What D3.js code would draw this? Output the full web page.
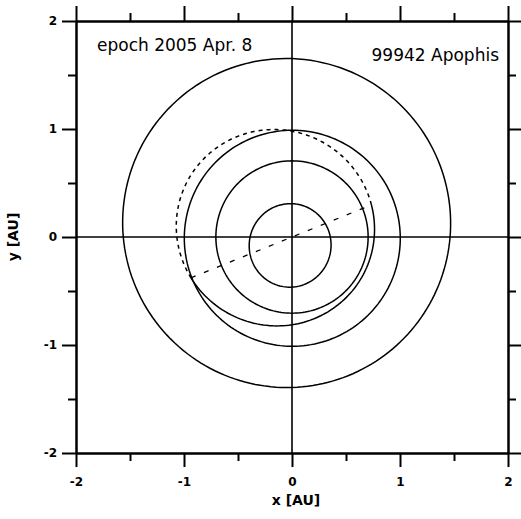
<!DOCTYPE html>
<html>
<head>
<meta charset="utf-8">
<script src="https://cdn.jsdelivr.net/npm/d3@7"></script>
<style>
body { margin: 0; background: #fff; }
svg { display: block; }
.axis path, .axis line { stroke: #000; stroke-width: 2; }
.axis text { font-family: "DejaVu Sans", sans-serif; font-weight: bold; font-size: 12px; fill: #000; }
</style>
</head>
<body>
<div id="chart"></div>
<script>
// orbit elements (AU, degrees)
var bodies = ["Mercury", "Venus", "Earth", "Mars", "99942 Apophis"];
var semiMajor = [0.387, 0.705, 1.0, 1.524, 0.922];
var eccentricity = [0.206, 0.0, 0.012, 0.091, 0.191];
var perihelionLon = [77.5, 131, 103, 291, 330.8];
var apophisNode = 202;          // longitude of line of nodes
var majorTicks = [-2, -1, 0, 1, 2];
var minorTicks = [-1.5, -0.5, 0.5, 1.5];
var epochLabel = "epoch 2005 Apr. 8";
var objectLabel = "99942 Apophis";

var width = 521, height = 519;
var margin = {top: 21, right: 13, bottom: 66, left: 76};

var svg = d3.select("#chart").append("svg")
    .attr("width", width)
    .attr("height", height);

var x = d3.scaleLinear().domain([-2, 2]).range([margin.left, width - margin.right]);
var y = d3.scaleLinear().domain([-2, 2]).range([height - margin.bottom, margin.top]);

var fmt = function(d) { return d < 0 ? "-" + Math.abs(d) : d; };

// axes: major + minor ticks on all four sides
function addAxis(axisFn, scale, transform, size, labels) {
    svg.append("g")
        .attr("class", "axis")
        .attr("transform", transform)
        .call(axisFn(scale).tickValues(majorTicks).tickSize(size).tickSizeOuter(0)
            .tickPadding(axisFn === d3.axisBottom ? 10 : 5)
            .tickFormat(labels ? fmt : ""));
    svg.append("g")
        .attr("class", "axis")
        .attr("transform", transform)
        .call(axisFn(scale).tickValues(minorTicks).tickSize(8).tickSizeOuter(0).tickFormat(""));
}
addAxis(d3.axisLeft, y, "translate(" + x(-2) + ",0)", 14, true);
addAxis(d3.axisRight, y, "translate(" + x(2) + ",0)", 14, false);
addAxis(d3.axisTop, x, "translate(0," + y(2) + ")", 15, false);
addAxis(d3.axisBottom, x, "translate(0," + y(-2) + ")", 14, true);

// cross hairs through the sun
svg.append("line")
    .attr("x1", x(-2)).attr("x2", x(2)).attr("y1", y(0)).attr("y2", y(0))
    .attr("stroke", "#000").attr("stroke-width", 1.6);
svg.append("line")
    .attr("x1", x(0)).attr("x2", x(0)).attr("y1", y(-2)).attr("y2", y(2))
    .attr("stroke", "#000").attr("stroke-width", 1.6);

// heliocentric position for a true longitude
function radius(i, lon) {
    var a = semiMajor[i], e = eccentricity[i];
    return a * (1 - e * e) / (1 + e * Math.cos((lon - perihelionLon[i]) * Math.PI / 180));
}
function orbitLine(i) {
    return d3.line()
        .x(function(lon) { return x(radius(i, lon) * Math.cos(lon * Math.PI / 180)); })
        .y(function(lon) { return y(radius(i, lon) * Math.sin(lon * Math.PI / 180)); });
}

var orbits = svg.append("g").attr("fill", "none").attr("stroke", "#000").attr("stroke-width", 1.5);

// planets: full orbits
for (var i = 0; i < 4; i++) {
    orbits.append("path")
        .datum(d3.range(0, 361, 2))
        .attr("d", orbitLine(i));
}

// apophis: solid part from ascending node, dashed part below the ecliptic
var ai = 4;
orbits.append("path")
    .datum(d3.range(apophisNode, apophisNode + 181, 2))
    .attr("d", orbitLine(ai));
orbits.append("path")
    .datum(d3.range(apophisNode - 180, apophisNode + 1, 2))
    .attr("d", orbitLine(ai))
    .attr("stroke-dasharray", "4,4");

// line of nodes
var nodes = [apophisNode, apophisNode - 180];
svg.append("line")
    .attr("x1", x(radius(ai, nodes[0]) * Math.cos(nodes[0] * Math.PI / 180)))
    .attr("y1", y(radius(ai, nodes[0]) * Math.sin(nodes[0] * Math.PI / 180)))
    .attr("x2", x(radius(ai, nodes[1]) * Math.cos(nodes[1] * Math.PI / 180)))
    .attr("y2", y(radius(ai, nodes[1]) * Math.sin(nodes[1] * Math.PI / 180)))
    .attr("stroke", "#000").attr("stroke-width", 1.3)
    .attr("stroke-dasharray", "5,9");

// labels
svg.append("text")
    .attr("x", 97).attr("y", 51)
    .attr("font-family", "DejaVu Sans, sans-serif").attr("font-size", 17)
    .text(epochLabel);
svg.append("text")
    .attr("x", 499).attr("y", 61)
    .attr("text-anchor", "end")
    .attr("font-family", "DejaVu Sans, sans-serif").attr("font-size", 17)
    .text(objectLabel);

svg.append("text")
    .attr("x", x(0) + 4).attr("y", 505)
    .attr("text-anchor", "middle")
    .attr("font-family", "DejaVu Sans, sans-serif").attr("font-weight", "bold").attr("font-size", 14)
    .text("x [AU]");
svg.append("text")
    .attr("transform", "translate(18," + y(0) + ") rotate(-90)")
    .attr("text-anchor", "middle")
    .attr("font-family", "DejaVu Sans, sans-serif").attr("font-weight", "bold").attr("font-size", 14)
    .text("y [AU]");
</script>
</body>
</html>
